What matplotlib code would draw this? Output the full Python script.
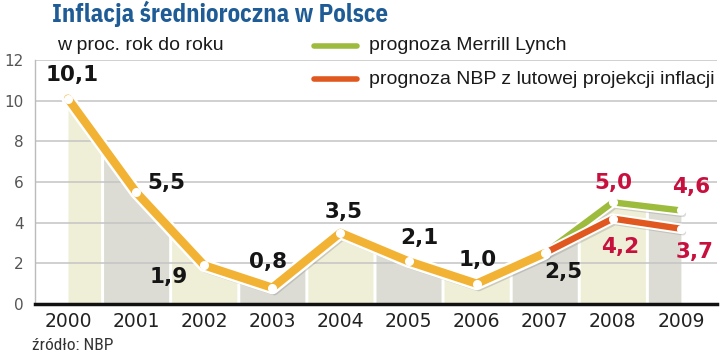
import numpy as np
import matplotlib
matplotlib.use('Agg')
import matplotlib.pyplot as plt
import matplotlib.patheffects as pe
from matplotlib.lines import Line2D

# data
years = [2000, 2001, 2002, 2003, 2004, 2005, 2006, 2007, 2008, 2009]
actual_years = [2000, 2001, 2002, 2003, 2004, 2005, 2006, 2007]
actual = [10.1, 5.5, 1.9, 0.8, 3.5, 2.1, 1.0, 2.5]
fc_years = [2007, 2008, 2009]
merrill = [2.5, 5.0, 4.6]
nbp = [2.5, 4.2, 3.7]
actual_labels = ['10,1', '5,5', '1,9', '0,8', '3,5', '2,1', '1,0', '2,5']
merrill_labels = ['5,0', '4,6']
nbp_labels = ['4,2', '3,7']

W, H = 720, 357
fig = plt.figure(figsize=(7.2, 3.57), dpi=100)
ax = fig.add_axes([35 / W, 1 - 304 / H, (717 - 35) / W, (304 - 60) / H])

ax.set_xlim(1999.515, 2009.53)
ax.set_ylim(0, 12)

orange = '#f2b234'
green = '#9dbb3d'
red = '#e0581f'
crimson = '#c8103f'
beige = '#efeed6'
grey = '#dcdcd5'

# background columns that follow the top line
top_x = actual_years + fc_years[1:]
top_y = actual + merrill[1:]
gap = 0.022
for i, yr in enumerate(years):
    x0 = max(yr - 0.5, years[0]) + (gap if i > 0 else 0)
    x1 = min(yr + 0.5, years[-1]) - (gap if i < len(years) - 1 else 0)
    xs = np.array([x0, yr, x1])
    ys = np.interp(xs, top_x, top_y)
    ax.fill_between(xs, 0, ys, color=beige if i % 2 == 0 else grey, lw=0, zorder=1)

# grid
for v in range(2, 13, 2):
    ax.axhline(v, color='#c4c4c4', lw=1.1, zorder=2)

shadow = [pe.SimpleLineShadow(offset=(1.5, -2.5), shadow_color='#888888', alpha=0.35),
          pe.Stroke(linewidth=9.5, foreground='white'), pe.Normal()]
shadow2 = [pe.SimpleLineShadow(offset=(1.5, -2.5), shadow_color='#888888', alpha=0.3),
           pe.Stroke(linewidth=7.5, foreground='white'), pe.Normal()]

ax.plot(fc_years, merrill, color=green, lw=4.6, solid_capstyle='round', zorder=4, path_effects=shadow2)
ax.plot(fc_years, nbp, color=red, lw=4.6, solid_capstyle='round', zorder=5, path_effects=shadow2)
ax.plot(actual_years, actual, color=orange, lw=6, solid_capstyle='round', solid_joinstyle='round',
        zorder=6, path_effects=shadow)

ax.plot(actual_years, actual, 'o', color='white', ms=5.5, zorder=7)
ax.plot(fc_years[1:], merrill[1:], 'o', color='white', ms=5.5, zorder=7)
ax.plot(fc_years[1:], nbp[1:], 'o', color='white', ms=5.5, zorder=7)

# value labels (pixel offsets from the points)
act_off = [(4, 24), (30, 9), (-36, -12), (-4, 26), (3, 21), (11, 23), (1, 24), (19, -19)]
for x, v, t, o in zip(actual_years, actual, actual_labels, act_off):
    ax.annotate(t, (x, v), xytext=o, textcoords='offset pixels', ha='center', va='center',
                fontsize=15.5, fontweight='bold', color='#151515', zorder=8)
for x, v, t, o in zip(fc_years[1:], merrill[1:], merrill_labels, [(1, 19), (10, 23)]):
    ax.annotate(t, (x, v), xytext=o, textcoords='offset pixels', ha='center', va='center',
                fontsize=15.5, fontweight='bold', color=crimson, zorder=8)
for x, v, t, o in zip(fc_years[1:], nbp[1:], nbp_labels, [(7, -28), (14, -23)]):
    ax.annotate(t, (x, v), xytext=o, textcoords='offset pixels', ha='center', va='center',
                fontsize=15.5, fontweight='bold', color=crimson, zorder=8)

# axes styling
for s in ['top', 'right']:
    ax.spines[s].set_visible(False)
ax.spines['left'].set_color('#bbbbbb')
ax.spines['left'].set_linewidth(1)
ax.spines['bottom'].set_color('#111111')
ax.spines['bottom'].set_linewidth(2.5)
ax.spines['bottom'].set_zorder(9)
ax.set_xticks(years)
ax.set_xticklabels([str(y) for y in years], fontsize=13.5, color='#222222')
ax.set_yticks(range(0, 13, 2))
ax.set_yticklabels([str(v) for v in range(0, 13, 2)], fontsize=11, color='#555555')
ax.tick_params(axis='both', length=0)
ax.tick_params(axis='x', pad=6)
ax.tick_params(axis='y', pad=8)

# title, subtitle, legend, source
title_font = ['IBM Plex Sans Condensed', 'Roboto Condensed', 'DejaVu Sans']
narrow = ['Roboto Condensed', 'DejaVu Sans']
plain = ['Liberation Sans', 'DejaVu Sans']
fig.text(52 / W, 1 - 14 / H, 'Inflacja średnioroczna w Polsce', fontsize=17.8, fontweight='bold',
         color='#1f5c96', family=title_font, ha='left', va='center')
fig.text(57 / W, 1 - 46 / H, 'w proc. rok do roku', fontsize=14, color='#1a1a1a',
         family=plain, ha='left', va='center')
fig.add_artist(Line2D([314 / W, 357 / W], [1 - 46 / H] * 2, color=green, lw=4, solid_capstyle='round'))
fig.add_artist(Line2D([314 / W, 357 / W], [1 - 79 / H] * 2, color=red, lw=4, solid_capstyle='round'))
fig.text(369 / W, 1 - 46 / H, 'prognoza Merrill Lynch', fontsize=14, color='#1a1a1a',
         family=plain, ha='left', va='center')
fig.text(369 / W, 1 - 80 / H, 'prognoza NBP z lutowej projekcji inflacji', fontsize=14, color='#1a1a1a',
         family=plain, ha='left', va='center')
fig.text(32 / W, 1 - 345 / H, 'źródło: NBP', fontsize=12.5, color='#333333',
         family=narrow, ha='left', va='center')

fig.savefig('out.png', dpi=100)
